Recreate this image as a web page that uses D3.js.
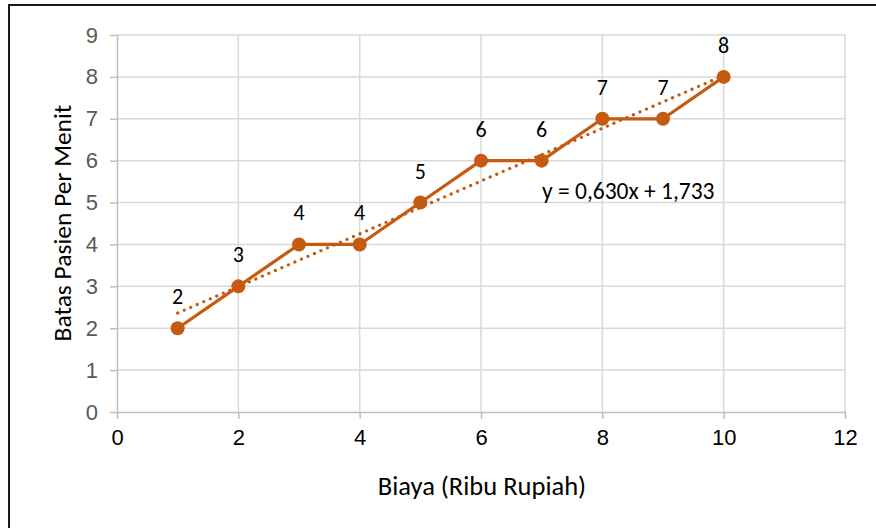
<!DOCTYPE html>
<html>
<head>
<meta charset="utf-8">
<script src="https://cdn.jsdelivr.net/npm/d3@7"></script>
<style>
  html, body { margin: 0; padding: 0; background: #fff; }
  svg { display: block; font-family: Carlito, Calibri, Lato, "Open Sans", sans-serif; }
</style>
</head>
<body>
<svg id="chart" width="876" height="528"></svg>
<script>
// Biaya (ribu rupiah) vs. batas pasien per menit
const biaya = [1, 2, 3, 4, 5, 6, 7, 8, 9, 10];
const batasPasien = [2, 3, 4, 4, 5, 6, 6, 7, 7, 8];
const xTicks = [0, 2, 4, 6, 8, 10, 12];
const yTicks = [0, 1, 2, 3, 4, 5, 6, 7, 8, 9];
const trendSlope = 0.630;
const trendIntercept = 1.733;
const trendLabel = "y = 0,630x + 1,733";
const xTitle = "Biaya (Ribu Rupiah)";
const yTitle = "Batas Pasien Per Menit";

const orange = "#c55a11";
const svg = d3.select("#chart");

// outer frame
svg.append("rect")
  .attr("x", 9).attr("y", 5).attr("width", 880).attr("height", 540)
  .attr("fill", "none").attr("stroke", "#1a1a1a").attr("stroke-width", 2);

const x = d3.scaleLinear().domain([0, 12]).range([117, 845]);
const y = d3.scaleLinear().domain([0, 9]).range([412, 35]);

// gridlines
const grid = svg.append("g");
grid.selectAll("line.h").data(yTicks.filter(d => d > 0)).join("line")
  .attr("x1", x(0)).attr("x2", x(12))
  .attr("y1", d => y(d)).attr("y2", d => y(d))
  .attr("stroke", "#d9d9d9").attr("stroke-width", 1.5);
grid.selectAll("line.v").data(xTicks.filter(d => d > 0)).join("line")
  .attr("y1", y(0)).attr("y2", y(9))
  .attr("x1", d => x(d)).attr("x2", d => x(d))
  .attr("stroke", "#d9d9d9").attr("stroke-width", 1.5);

// axes
const xAxis = svg.append("g").attr("transform", `translate(0,${y(0)})`)
  .call(d3.axisBottom(x).tickValues(xTicks).tickSize(7).tickPadding(10).tickSizeOuter(0));
const yAxis = svg.append("g").attr("transform", `translate(${x(0)},0)`)
  .call(d3.axisLeft(y).tickValues(yTicks).tickSize(7).tickPadding(12).tickSizeOuter(0));
[xAxis, yAxis].forEach(a => {
  a.select(".domain").attr("stroke", "#bfbfbf").attr("stroke-width", 1.5);
  a.selectAll(".tick line").attr("stroke", "#bfbfbf").attr("stroke-width", 1.5);
  a.selectAll(".tick text").attr("font-family", null).attr("font-size", 22);
});
xAxis.selectAll(".tick text").attr("fill", "#000");
yAxis.selectAll(".tick text").attr("fill", "#595959");

// linear trendline (dotted)
svg.append("line")
  .attr("x1", x(biaya[0])).attr("y1", y(trendSlope * biaya[0] + trendIntercept))
  .attr("x2", x(biaya[biaya.length - 1])).attr("y2", y(trendSlope * biaya[biaya.length - 1] + trendIntercept))
  .attr("stroke", orange).attr("stroke-width", 3.2)
  .attr("stroke-linecap", "round").attr("stroke-dasharray", "0.1 7");

// series line and markers
const pts = biaya.map((b, i) => ({ x: b, y: batasPasien[i] }));
svg.append("path").datum(pts)
  .attr("fill", "none").attr("stroke", orange).attr("stroke-width", 3.2)
  .attr("stroke-linejoin", "round")
  .attr("d", d3.line().x(d => x(d.x)).y(d => y(d.y)));
svg.selectAll("circle.pt").data(pts).join("circle")
  .attr("cx", d => x(d.x)).attr("cy", d => y(d.y)).attr("r", 7)
  .attr("fill", orange);

// data labels
svg.selectAll("text.lbl").data(pts).join("text")
  .attr("x", d => x(d.x)).attr("y", d => y(d.y) - 24)
  .attr("text-anchor", "middle").attr("font-size", 22).attr("fill", "#000")
  .text(d => d.y);

// trendline equation
svg.append("text").attr("x", 542).attr("y", 199)
  .attr("font-size", 23.5).attr("fill", "#000").text(trendLabel);

// axis titles
svg.append("text").attr("x", 482).attr("y", 495)
  .attr("text-anchor", "middle").attr("font-size", 26.5).attr("fill", "#000")
  .text(xTitle);
svg.append("text")
  .attr("transform", "translate(71,223) rotate(-90)")
  .attr("text-anchor", "middle").attr("font-size", 25.5).attr("fill", "#000")
  .text(yTitle);
</script>
</body>
</html>
